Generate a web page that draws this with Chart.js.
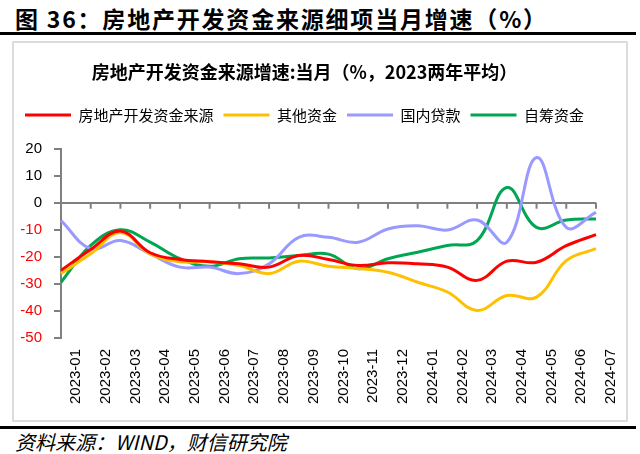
<!DOCTYPE html>
<html>
<head>
<meta charset="utf-8">
<script src="https://cdn.jsdelivr.net/npm/chart.js@4.4.1/dist/chart.umd.min.js"></script>
<style>
  body { margin: 0; width: 640px; height: 454px; background: #fff; position: relative; overflow: hidden; font-family: "Noto Sans CJK SC", sans-serif; }
  #head { position: absolute; left: 15px; top: 1px; font-size: 23px; font-weight: bold; color: #000; letter-spacing: 1.8px; }
  .rule { position: absolute; left: 0; width: 636px; height: 3px; background: #000; }
  #box { position: absolute; left: 12px; top: 41px; width: 616px; height: 381px; box-sizing: border-box; border: 2px solid #dcdcdc; }
  #wrap { position: absolute; left: 13px; top: 42px; width: 614px; height: 379px; }
  #src { position: absolute; left: 15px; top: 427px; font-size: 20px; font-style: italic; color: #000; }
</style>
</head>
<body>
<div id="head">图 36：房地产开发资金来源细项当月增速（%）</div>
<div class="rule" style="top:32px"></div>
<div id="box"></div>
<div id="wrap"><canvas id="myChart"></canvas></div>
<div class="rule" style="top:426px"></div>
<div id="src">资料来源：WIND，财信研究院</div>
<script>
var months = ["2023-01","2023-02","2023-03","2023-04","2023-05","2023-06","2023-07","2023-08","2023-09","2023-10",
              "2023-11","2023-12","2024-01","2024-02","2024-03","2024-04","2024-05","2024-06","2024-07"];

// 房地产开发资金来源
var total = [-25, -17.3, -10.5, -18.5, -21, -21.8, -22.6, -23.8, -19.5, -21, -23.2, -22.2, -22.6, -23.8, -28.7, -21.6, -22, -15.9, -11.8];
// 其他资金
var other = [-26.2, -18.9, -11, -18.9, -21.8, -21.8, -23.2, -26.2, -21.6, -23.5, -24.3, -25.7, -29.4, -33, -39.8, -34.3, -34.9, -21.4, -17];
// 国内贷款
var loans = [-6.6, -17, -14, -18.9, -23.8, -23.8, -26.2, -22.6, -12.8, -12.8, -14.6, -9.7, -8.5, -10.1, -6.4, -14.6, 16.7, -9.1, -3.6];
// 自筹资金
var self = [-29.4, -15.8, -10, -14.6, -20.7, -23.5, -20.7, -20.4, -19.5, -19, -24.4, -20.7, -18.3, -15.8, -14, 5.6, -9.1, -6.4, -6];

var yTicks = [20, 10, 0, -10, -20, -30, -40, -50];

function line(name, data, color) {
  return {
    label: name,
    data: data,
    borderColor: color,
    backgroundColor: color,
    borderWidth: 3,
    pointRadius: 0,
    tension: 0.4,
    fill: false
  };
}

// little tick marks hanging under the zero line
var zeroTicks = {
  id: 'zeroTicks',
  beforeDatasetsDraw(chart) {
    var x = chart.scales.x, y = chart.scales.y;
    var y0 = y.getPixelForValue(0);
    var c = chart.ctx;
    c.save();
    c.strokeStyle = '#808080';
    c.lineWidth = 2;
    c.beginPath();
    for (var i = 0; i < months.length; i++) {
      var px = x.getPixelForValue(i);
      c.moveTo(px, y0);
      c.lineTo(px, y0 + 6);
    }
    c.stroke();
    c.restore();
  }
};

// extra room under the legend
var legendGap = {
  id: 'legendGap',
  beforeInit(chart) {
    var fit = chart.legend.fit;
    chart.legend.fit = function () {
      fit.call(this);
      this.height += 16;
    };
  }
};

var ctx = document.getElementById("myChart");
new Chart(ctx, {
  type: 'line',
  data: {
    labels: months,
    datasets: [
      line("房地产开发资金来源", total, "#FF0000"),
      line("其他资金", other, "#FFC000"),
      line("国内贷款", loans, "#9999FF"),
      line("自筹资金", self, "#00A651")
    ]
  },
  options: {
    responsive: true,
    maintainAspectRatio: false,
    animation: false,
    layout: { padding: { top: 0, right: 31, bottom: 0, left: 0 } },
    plugins: {
      title: {
        display: true,
        text: "房地产开发资金来源增速:当月（%，2023两年平均）",
        color: "#000",
        font: { family: "Noto Sans CJK SC", size: 18, weight: "bold" },
        padding: { top: 19, bottom: 15 }
      },
      legend: {
        display: true,
        labels: {
          usePointStyle: true,
          pointStyle: 'line',
          pointStyleWidth: 46,
          padding: 10,
          color: "#000",
          font: { family: "Noto Sans CJK SC", size: 15 }
        }
      },
      tooltip: { enabled: false }
    },
    scales: {
      x: {
        offset: false,
        grid: { display: false },
        border: { display: false },
        ticks: {
          color: "#000",
          autoSkip: false,
          minRotation: 90,
          maxRotation: 90,
          labelOffset: 15,
          font: { family: "Liberation Sans", size: 15 }
        },
        afterFit: function (s) { s.height = 83; }
      },
      y: {
        min: -50,
        max: 20,
        afterBuildTicks: function (s) { s.ticks = yTicks.map(function (v) { return { value: v }; }); },
        border: { display: true, color: "#808080", width: 2 },
        grid: {
          color: function (c) { return c.tick && c.tick.value === 0 ? "#808080" : "rgba(0,0,0,0)"; },
          lineWidth: 2,
          tickColor: "#808080",
          tickLength: 7
        },
        ticks: {
          padding: 12,
          color: function (c) { return c.tick.value < 0 ? "#FF0000" : "#000"; },
          font: { family: "Liberation Sans", size: 15 }
        },
        afterFit: function (s) { s.width = 48; }
      }
    }
  },
  plugins: [zeroTicks, legendGap]
});
</script>
</body>
</html>
